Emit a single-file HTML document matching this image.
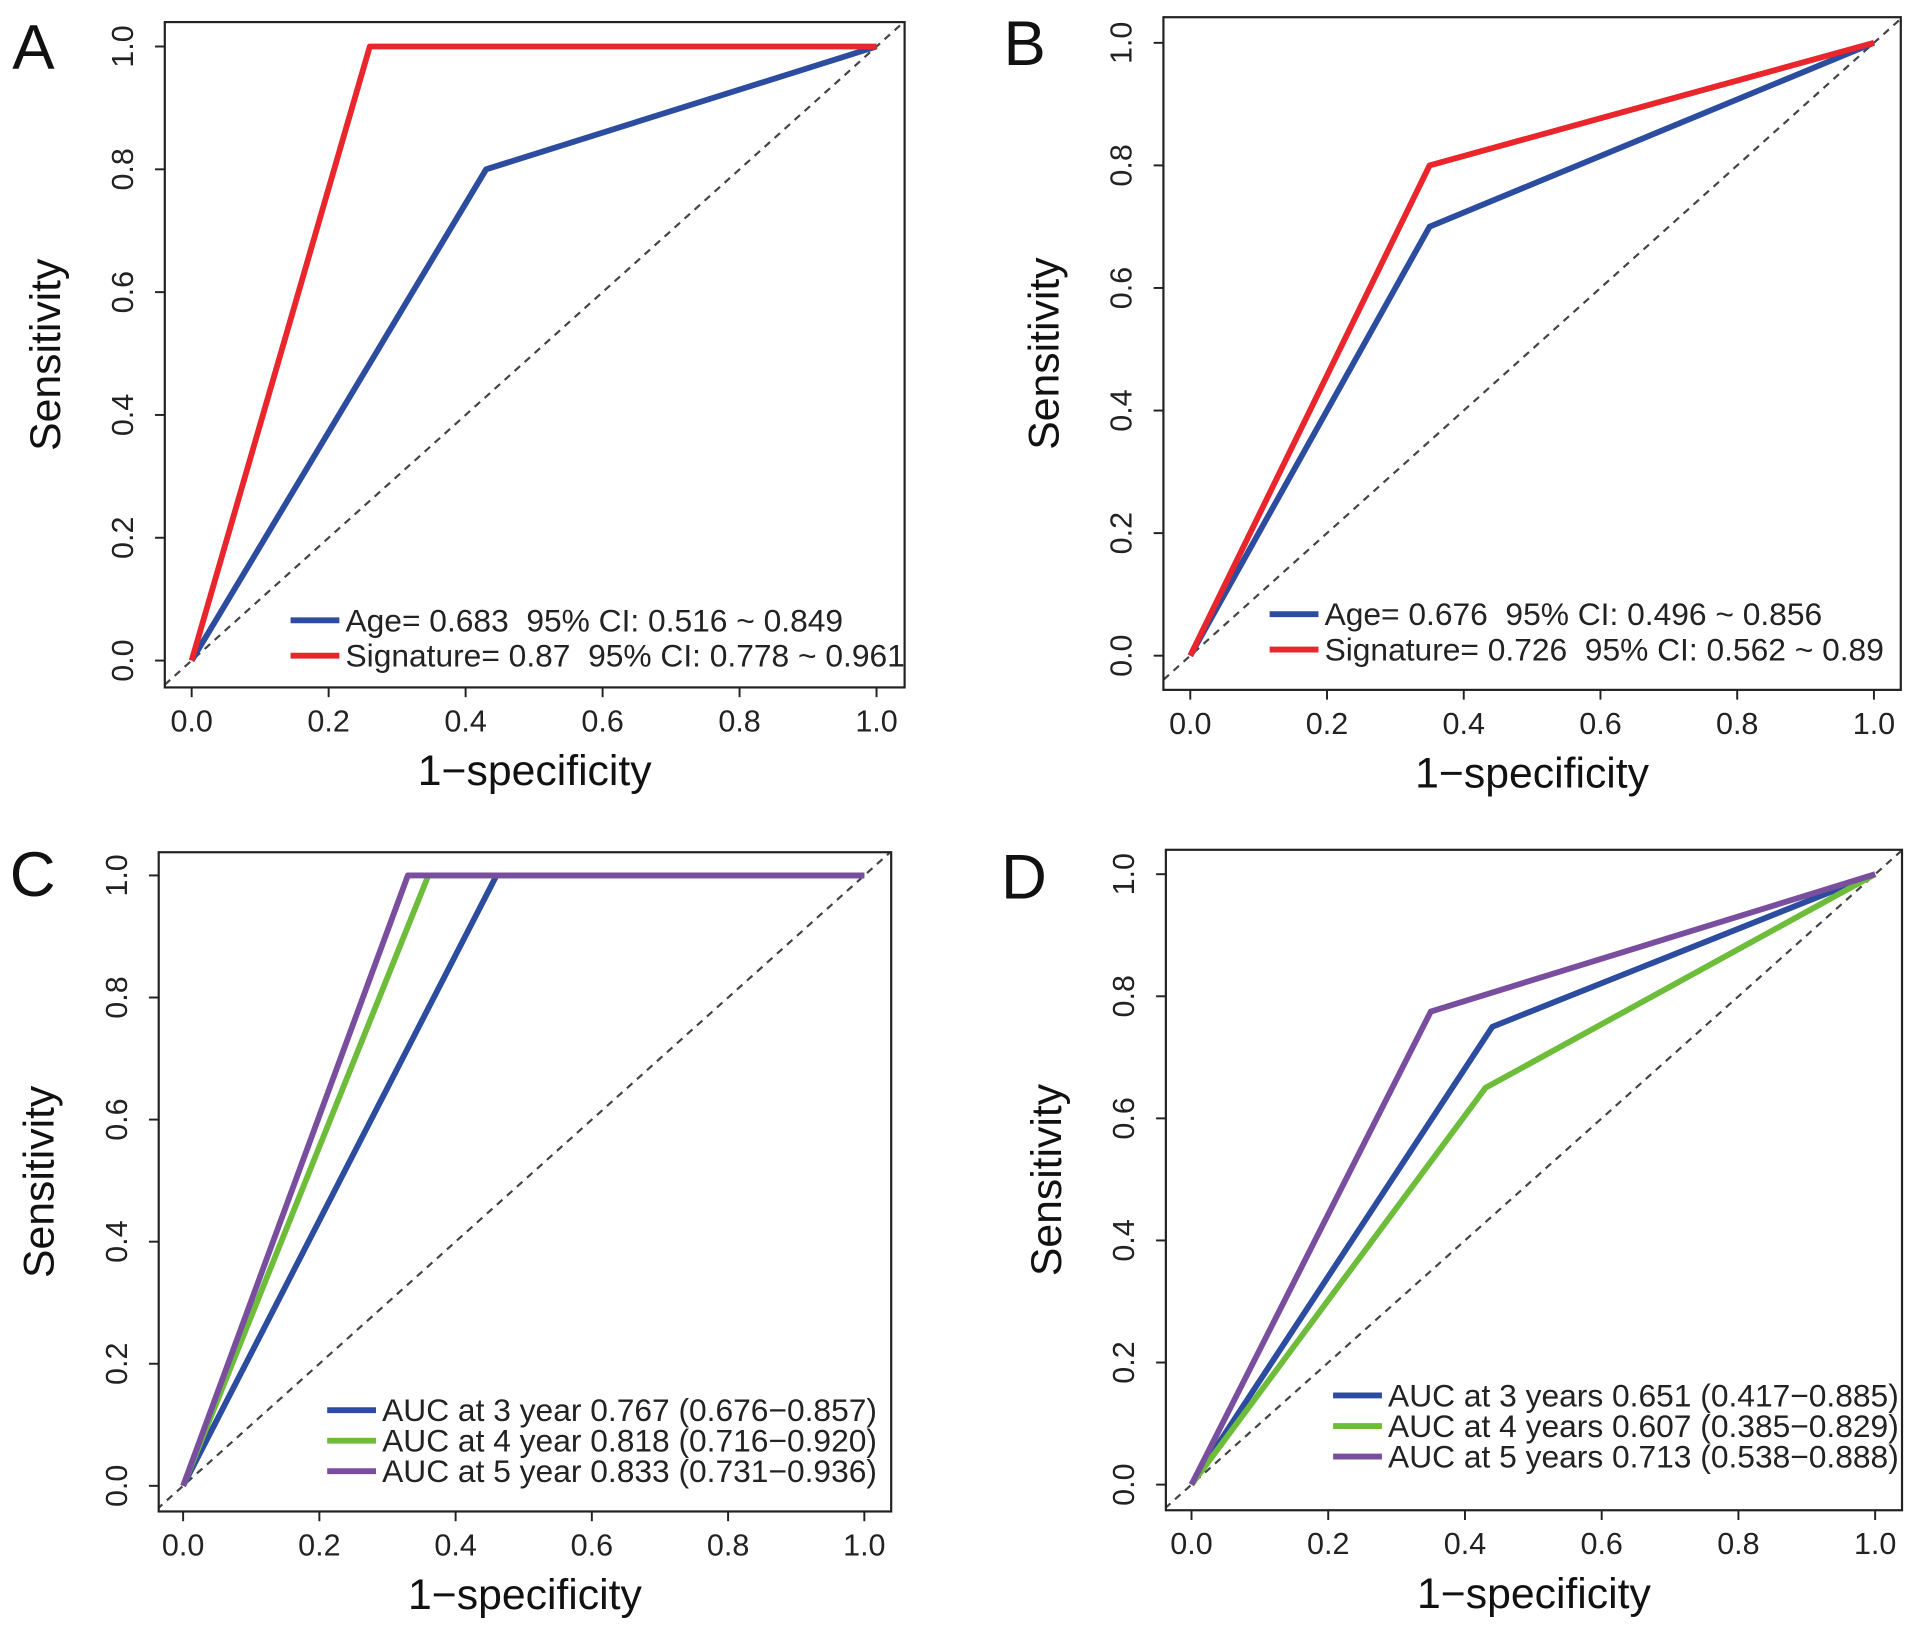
<!DOCTYPE html>
<html><head><meta charset="utf-8"><style>
html,body{margin:0;padding:0;background:#fff;}
svg{display:block;font-family:"Liberation Sans",Arial,sans-serif;}
text{white-space:pre;}
</style></head><body>
<svg id="fig" width="1913" height="1630" viewBox="0 0 1567 1335" xmlns="http://www.w3.org/2000/svg"></svg>
<script>
const ticks = [0, 0.2, 0.4, 0.6, 0.8, 1.0];
const tickLabels = ["0.0", "0.2", "0.4", "0.6", "0.8", "1.0"];

// Panel A
const aNames = ["Age= 0.683  95% CI: 0.516 ~ 0.849", "Signature= 0.87  95% CI: 0.778 ~ 0.961"];
const aColors = ["#2b4c9f", "#e8262c"];
const aX = [[0, 0.43, 1], [0, 0.26, 1]];
const aY = [[0, 0.8, 1], [0, 1, 1]];
// Panel B
const bNames = ["Age= 0.676  95% CI: 0.496 ~ 0.856", "Signature= 0.726  95% CI: 0.562 ~ 0.89"];
const bColors = ["#2b4c9f", "#e8262c"];
const bX = [[0, 0.35, 1], [0, 0.35, 1]];
const bY = [[0, 0.7, 1], [0, 0.8, 1]];
// Panel C
const cNames = ["AUC at 3 year 0.767 (0.676\u22120.857)", "AUC at 4 year 0.818 (0.716\u22120.920)", "AUC at 5 year 0.833 (0.731\u22120.936)"];
const cColors = ["#2b4c9f", "#6dbd3b", "#7a4e9f"];
const cX = [[0, 0.46, 1], [0, 0.36, 1], [0, 0.33, 1]];
const cY = [[0, 1, 1], [0, 1, 1], [0, 1, 1]];
// Panel D
const dNames = ["AUC at 3 years 0.651 (0.417\u22120.885)", "AUC at 4 years 0.607 (0.385\u22120.829)", "AUC at 5 years 0.713 (0.538\u22120.888)"];
const dColors = ["#2b4c9f", "#6dbd3b", "#7a4e9f"];
const dX = [[0, 0.44, 1], [0, 0.43, 1], [0, 0.35, 1]];
const dY = [[0, 0.75, 1], [0, 0.65, 1], [0, 0.775, 1]];

const NS = "http://www.w3.org/2000/svg";
const svg = document.getElementById('fig');
function mk(tag, attrs, parent, text) {
  const e = document.createElementNS(NS, tag);
  for (const k in attrs) e.setAttribute(k, attrs[k]);
  if (text !== undefined) e.textContent = text;
  (parent || svg).appendChild(e);
  return e;
}

function panel(cfg, letter, names, colors, xs, ys) {
  const g = mk('g', {});
  
  
  const sx = v => cfg.x0 + v * (cfg.x1 - cfg.x0);
  const sy = v => cfg.y0 - v * (cfg.y0 - cfg.y1);
  const cid = 'clip' + letter;
  const cp = mk('clipPath', { id: cid }, g);
  mk('rect', { x: cfg.L, y: cfg.T, width: cfg.R - cfg.L, height: cfg.B - cfg.T }, cp);
  const lt = mk('text', { x: cfg.lx, y: cfg.ly, 'font-size': 52, fill: '#111' }, g, letter);
  
  
  const dg = mk('line', { x1: sx(-0.2), y1: sy(-0.2), x2: sx(1.2), y2: sy(1.2), stroke: '#444', 'stroke-width': 1.8, 'stroke-dasharray': '6,5', 'clip-path': 'url(#' + cid + ')' }, g);
  
  
  for (let s = 0; s < xs.length; s++) {
    const pts = xs[s].map((v, i) => sx(v).toFixed(1) + ',' + sy(ys[s][i]).toFixed(1)).join(' ');
    const pl = mk('polyline', { points: pts, fill: 'none', stroke: colors[s], 'stroke-width': 4.8, 'stroke-linejoin': 'round' }, g);
    
    
  }
  const bx = mk('rect', { x: cfg.L, y: cfg.T, width: cfg.R - cfg.L, height: cfg.B - cfg.T, fill: 'none', stroke: '#222', 'stroke-width': 1.8 }, g);
  
  
  ticks.forEach((t, i) => {
    mk('line', { x1: sx(t), y1: cfg.B, x2: sx(t), y2: cfg.B + 8, stroke: '#222', 'stroke-width': 1.6 }, g);
    const xl = mk('text', { x: sx(t), y: cfg.B + 36, 'font-size': 25, 'text-anchor': 'middle', fill: '#222' }, g, tickLabels[i]);
    
    
    mk('line', { x1: cfg.L, y1: sy(t), x2: cfg.L - 8, y2: sy(t), stroke: '#222', 'stroke-width': 1.6 }, g);
    const yx = cfg.L - 26, yy = sy(t);
    const yl = mk('text', { x: yx, y: yy, 'font-size': 25, 'text-anchor': 'middle', fill: '#222', transform: 'rotate(-90 ' + yx + ' ' + yy + ')' }, g, tickLabels[i]);
    
    
  });
  const xt = mk('text', { x: (cfg.L + cfg.R) / 2, y: cfg.B + 80, 'font-size': 35, 'text-anchor': 'middle', fill: '#111' }, g, '1\u2212specificity');
  
  
  const tx = cfg.L - 86, ty = (cfg.T + cfg.B) / 2;
  const yt = mk('text', { x: tx, y: ty, 'font-size': 35, 'text-anchor': 'middle', fill: '#111', transform: 'rotate(-90 ' + tx + ' ' + ty + ')' }, g, 'Sensitivity');
  
  
  names.forEach((n, i) => {
    const y = cfg.legY + i * cfg.legGap;
    const le = mk('g', {}, g);
    
    
    mk('line', { x1: cfg.legX, y1: y, x2: cfg.legX + 40, y2: y, stroke: colors[i], 'stroke-width': 4.8 }, le);
    mk('text', { x: cfg.legX + 45, y: y + 9, 'font-size': 26, fill: '#222' }, le, n);
  });
}

panel({ L: 135, R: 741, T: 18, B: 563, x0: 157, x1: 718, y1: 38, y0: 541, lx: 10, ly: 56, legX: 238, legY: 508, legGap: 29 }, 'A', aNames, aColors, aX, aY);
panel({ L: 953, R: 1557, T: 14, B: 565, x0: 975, x1: 1535, y1: 35, y0: 537, lx: 822, ly: 53, legX: 1040, legY: 503, legGap: 29 }, 'B', bNames, bColors, bX, bY);
panel({ L: 130, R: 730, T: 698, B: 1238, x0: 150, x1: 708, y1: 717, y0: 1217, lx: 8, ly: 734, legX: 268, legY: 1155, legGap: 25 }, 'C', cNames, cColors, cX, cY);
panel({ L: 955, R: 1558, T: 696, B: 1237, x0: 976, x1: 1536, y1: 716, y0: 1216, lx: 820, ly: 736, legX: 1092, legY: 1143, legGap: 25 }, 'D', dNames, dColors, dX, dY);
</script>
</body></html>
